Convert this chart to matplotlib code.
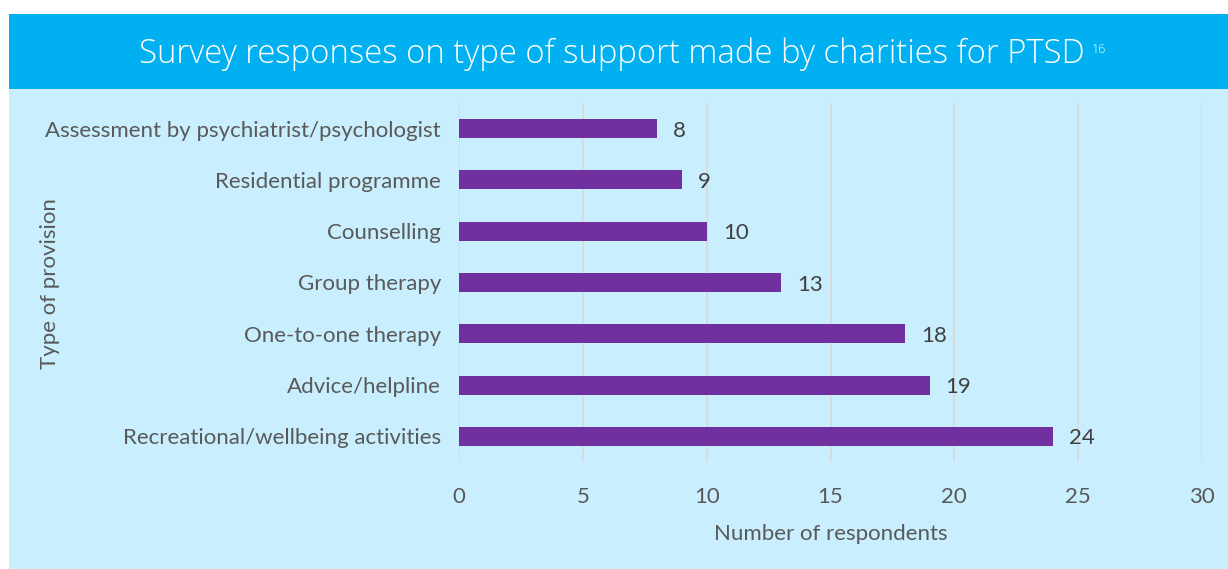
import matplotlib
matplotlib.use("Agg")
import matplotlib.pyplot as plt
from matplotlib.patches import Rectangle

categories = ["Assessment by psychiatrist/psychologist", "Residential programme",
              "Counselling", "Group therapy", "One-to-one therapy",
              "Advice/helpline", "Recreational/wellbeing activities"]
values = [8, 9, 10, 13, 18, 19, 24]
xticks = [0, 5, 10, 15, 20, 25, 30]

W, H = 1228, 569
fig = plt.figure(figsize=(W / 100, H / 100), dpi=100)
fig.patch.set_facecolor("white")

fig.add_artist(Rectangle((9 / W, 1 - 89 / H), 1 - 9 / W, 75 / H,
                         transform=fig.transFigure, facecolor="#00B0F0", edgecolor="none", zorder=-5))
fig.add_artist(Rectangle((9 / W, 0), 1 - 9 / W, 1 - 89 / H,
                         transform=fig.transFigure, facecolor="#C9EFFE", edgecolor="none", zorder=-5))

fig.text(1085 / W, 1 - 63 / H, "Survey responses on type of support made by charities for PTSD",
         ha="right", va="baseline", color="white", fontsize=23.7, family="Open Sans", fontweight="light")
fig.text(1092 / W, 1 - 53 / H, "16", ha="left", va="baseline", color="white", fontsize=9,
         family="Open Sans", fontweight="light")

ax = fig.add_axes([459 / W, 1 - 462 / H, (1202 - 459) / W, (462 - 103) / H])
ax.set_zorder(2)
ax.set_facecolor("none")
ypos = list(range(len(categories)))
bars = ax.barh(ypos, values, height=0.37, color="#7030A0", zorder=3)
ax.set_ylim(len(categories) - 0.5, -0.5)
ax.set_xlim(0, 30)
ax.set_xticks(xticks)
ax.set_xticklabels([str(t) for t in xticks])
ax.set_yticks(ypos)
ax.set_yticklabels(categories)
ax.grid(axis="x", color="#D9D9D9", linewidth=1.3, zorder=0)
for s in ax.spines.values():
    s.set_visible(False)
ax.tick_params(axis="both", length=0, labelcolor="#595959", labelsize=16)
ax.tick_params(axis="y", pad=13)
ax.tick_params(axis="x", pad=18)
for lab in ax.get_yticklabels() + ax.get_xticklabels():
    lab.set_family("Lato")
for b, v in zip(bars, values):
    ax.text(v + 0.65, b.get_y() + b.get_height() / 2 + 0.04, str(v), va="center", ha="left",
            fontsize=16, color="#404040", family="Lato")
ax.set_xlabel("Number of respondents", fontsize=16, color="#595959", family="Lato", labelpad=12)
fig.text(50 / W, 1 - 284 / H, "Type of provision", rotation=90, ha="center", va="center",
         fontsize=16, color="#595959", family="Lato")

fig.savefig("out.png", dpi=100, facecolor=fig.get_facecolor())
